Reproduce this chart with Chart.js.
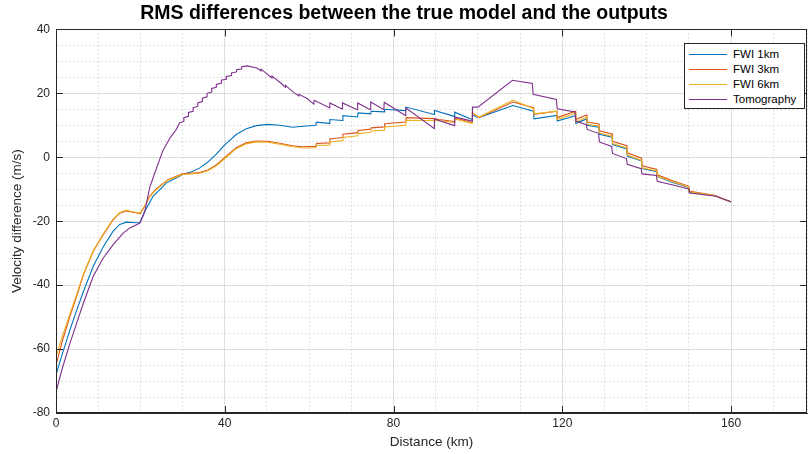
<!DOCTYPE html>
<html>
<head>
<meta charset="utf-8">
<title>RMS differences</title>
<script src="https://cdn.jsdelivr.net/npm/chart.js@4.4.0/dist/chart.umd.min.js"></script>
<style>
  body { margin: 0; background: #fff; }
  #wrap { position: relative; width: 810px; height: 454px; }
  #legend {
    position: absolute; left: 684px; top: 43px; width: 119px; height: 64px;
    border: 1px solid #262626; background: #fff;
    font: 11.5px "Liberation Sans", Arial, sans-serif; color: #000;
  }
  #legend .row { position: absolute; left: 0; width: 100%; height: 15px; }
  #legend .row i { position: absolute; left: 4px; top: 7px; width: 38px; height: 0; }
  #legend .row span { position: absolute; left: 48px; top: 0; line-height: 15px; white-space: nowrap; }
</style>
</head>
<body>
<div id="wrap">
  <canvas id="chart" width="810" height="454"></canvas>
  <div id="legend"></div>
</div>
<script>
"use strict";
var FONT = '"Liberation Sans", Arial, Helvetica, sans-serif';

// axis ticks
var xTicks = [0, 40, 80, 120, 160];
var yTicks = [-80, -60, -40, -20, 0, 20, 40];

var seriesNames = ['FWI 1km', 'FWI 3km', 'FWI 6km', 'Tomography'];
var seriesColors = ['#0072BD', '#D95319', '#EDB120', '#7E2F8E'];

// FWI 1km
var fwi1X = [0, 1.5, 3.3, 5, 6.5, 8.8, 11.2, 13.5, 15.1, 16.7, 18.7, 19.9, 21, 23, 26.2, 28.5, 30.1, 32, 34, 36, 38, 40,
    42.7, 45.1, 47.5, 50.2, 53, 56.1, 58.5, 61.6, 61.7, 64.8, 64.9, 67.9, 68, 71.5, 71.6, 74.6, 74.7, 77.8, 77.9,
    82.9, 83, 89.6, 89.7, 94.4, 94.5, 98.6, 98.7, 100.2, 108.3, 113.2, 113.3, 118.7, 118.8, 123.1, 123.2, 125.8, 125.9,
    128.7, 128.8, 131.8, 131.9, 135.3, 135.4, 138.8, 138.9, 142.4, 142.5, 146, 149.9, 150, 156, 160];
var fwi1Y = [-68.1, -61.5, -54.0, -47.5, -42.0, -34.2, -28.0, -23.2, -21.0, -20.3, -20.5, -20.4, -17.0, -12.2, -8.0, -6.5, -5.3, -4.6, -3.4, -1.5, 1.0, 3.9,
    7.1, 8.9, 9.9, 10.3, 10.0, 9.4, 9.7, 10.0, 11.0, 10.6, 11.8, 11.5, 13.0, 12.6, 13.9, 13.6, 14.4, 14.2, 15.0,
    14.6, 15.7, 13.4, 14.6, 12.8, 14.1, 11.8, 13.2, 12.4, 16.2, 14.4, 12.0, 13.1, 11.3, 13.0, 10.6, 12.0, 10.0,
    9.4, 7.2, 6.3, 4.0, 2.6, 0.4, -1.2, -3.5, -4.5, -6.0, -7.8, -9.4, -10.9, -12.0, -14.0];

// FWI 3km
var fwi3X = [0, 1.5, 3.3, 5, 6.5, 8.8, 11.2, 13.5, 15.1, 16.6, 18.6, 20, 21.4, 22.2, 23.7, 26.5, 30, 32, 34, 36, 38, 40.1,
    42.7, 45.1, 47.5, 50.2, 53, 56.1, 58.5, 61.6, 61.7, 64.8, 64.9, 67.9, 68, 71.5, 71.6, 74.6, 74.7, 77.8, 77.9,
    82.9, 83, 89.6, 90.8, 94.4, 94.5, 98.6, 98.7, 100.2, 108.3, 113.2, 113.3, 118.7, 118.8, 123.1, 123.2, 125.8, 125.9,
    128.7, 128.8, 131.8, 131.9, 135.3, 135.4, 138.8, 138.9, 142.4, 142.5, 146, 149.9, 150, 156, 160];
var fwi3Y = [-65.0, -57.5, -49.8, -43.0, -36.8, -29.5, -24.2, -19.6, -17.5, -16.8, -17.3, -17.6, -14.5, -12.2, -10.0, -7.0, -5.2, -5.0, -4.8, -4.0, -2.4, 0.0,
    3.0, 4.5, 5.1, 5.0, 4.4, 3.6, 3.3, 3.4, 4.3, 4.5, 5.7, 6.2, 7.2, 7.7, 8.4, 8.8, 9.2, 9.5, 10.5,
    11.0, 12.4, 12.1, 11.8, 11.2, 12.4, 10.8, 13.9, 12.4, 17.3, 15.5, 13.4, 14.4, 12.4, 14.4, 11.8, 13.3, 11.0,
    10.4, 8.3, 7.3, 5.0, 3.6, 1.4, -0.3, -2.7, -3.8, -5.5, -7.3, -9.0, -10.6, -11.9, -14.0];

// FWI 6km
var fwi6X = fwi3X;
var fwi6Y = [-62.5, -56.0, -49.0, -42.5, -36.5, -29.3, -24.0, -19.4, -17.3, -16.6, -17.1, -17.4, -14.4, -12.4, -10.2, -7.2, -5.4, -5.2, -5.0, -4.2, -2.7, -0.3,
    2.7, 4.2, 4.8, 4.7, 4.1, 3.3, 2.9, 3.0, 3.7, 3.8, 4.8, 5.2, 6.2, 6.7, 7.4, 7.8, 8.2, 8.5, 9.5,
    10.0, 11.6, 11.5, 11.4, 10.9, 12.0, 10.6, 14.0, 12.5, 17.9, 15.2, 13.6, 14.4, 11.8, 13.8, 11.0, 12.6, 10.3,
    9.8, 7.6, 6.6, 4.3, 2.9, 0.7, -1.0, -3.3, -4.3, -5.9, -7.6, -9.3, -10.8, -12.0, -14.0];

// Tomography
var tomoX = [0, 1.5, 3.3, 5, 6.5, 8.8, 11.2, 13.5, 15.9, 17.5, 19.9, 21, 22.2, 23.8, 25.3, 27, 28.5,
    29.3, 30.3, 30.3, 31.4, 31.4, 32.5, 32.5, 33.6, 33.6, 34.7, 34.7, 35.8, 35.8, 36.9, 36.9, 38.0, 38.0, 39.2, 39.2,
    40.4, 40.4, 41.6, 41.6, 42.8, 42.8, 44.0, 44.0, 45.3, 47.6, 48.6, 48.6, 50, 51.2, 51.2, 53.2, 54.4, 54.4,
    56.3, 57.6, 57.6, 59.5, 61.1, 61.2, 64.8, 64.9, 67.8, 67.9, 71.4, 71.5, 74.5, 74.6, 77.7, 77.8,
    82.8, 82.9, 89.6, 89.7, 94.4, 94.5, 98.6, 98.7, 100, 108.2, 112.9, 113.1, 118.6, 118.8, 123, 123.2, 125.7, 125.9,
    128.6, 128.8, 131.7, 131.9, 135.2, 135.4, 138.7, 138.9, 142.3, 142.5, 146, 150, 150.2, 156.5, 160];
var tomoY = [-73.4, -66.0, -58.2, -51.5, -45.6, -37.3, -31.5, -27.4, -23.7, -22.1, -20.6, -17.2, -9.5, -3.5, 2.0, 6.0, 8.7,
    10.8, 11.2, 12.4, 12.8, 14.0, 14.4, 15.5, 15.9, 17.0, 17.4, 18.5, 18.9, 20.0, 20.4, 21.5, 21.9, 22.8, 23.2, 24.1,
    24.5, 25.3, 25.6, 26.4, 26.7, 27.4, 27.6, 28.3, 28.6, 27.9, 27.0, 27.6, 26.1, 24.8, 25.4, 23.3, 21.9, 22.5,
    20.3, 19.2, 19.7, 18.4, 16.6, 17.8, 15.5, 17.0, 15.1, 17.0, 14.9, 17.0, 14.9, 17.3, 14.9, 17.2,
    13.1, 15.5, 9.0, 12.0, 9.9, 12.6, 11.3, 15.7, 15.7, 24.1, 23.1, 19.7, 18.1, 15.2, 14.2, 11.3, 10.2, 8.7,
    7.5, 4.8, 3.4, 1.2, -0.4, -2.2, -3.6, -5.2, -5.7, -7.5, -8.6, -9.9, -11.2, -12.2, -13.9];

var seriesX = [fwi1X, fwi3X, fwi6X, tomoX];
var seriesY = [fwi1Y, fwi3Y, fwi6Y, tomoY];

function toPoints(xs, ys) {
    return xs.map(function (x, i) { return { x: x, y: ys[i] }; });
}

var AXIS = '#262626';
var MAJOR_GRID = '#dedede';
var MINOR_GRID = '#c4c4c4';
var TICK_LEN = 7;

function isMajor(list, ctx) {
    return ctx.tick && list.indexOf(ctx.tick.value) !== -1;
}

// box around the axes with inward tick marks, drawn over the lines
var axesFrame = {
    id: 'axesFrame',
    afterDraw: function (chart) {
        var c = chart.ctx, a = chart.chartArea, sx = chart.scales.x, sy = chart.scales.y;
        c.save();
        c.strokeStyle = AXIS;
        c.lineWidth = 1;
        c.strokeRect(Math.round(a.left) + 0.5, Math.round(a.top) + 0.5,
            Math.round(a.right - a.left) - 1, Math.round(a.bottom - a.top) - 1);
        c.beginPath();
        xTicks.forEach(function (v) {
            var px = Math.round(sx.getPixelForValue(v)) + 0.5;
            c.moveTo(px, a.bottom); c.lineTo(px, a.bottom - TICK_LEN);
            c.moveTo(px, a.top); c.lineTo(px, a.top + TICK_LEN);
        });
        yTicks.forEach(function (v) {
            var py = Math.round(sy.getPixelForValue(v)) + 0.5;
            c.moveTo(a.left, py); c.lineTo(a.left + TICK_LEN, py);
            c.moveTo(a.right, py); c.lineTo(a.right - TICK_LEN, py);
        });
        c.stroke();
        c.restore();
    }
};

var datasets = seriesNames.map(function (name, i) {
    return {
        label: name,
        data: toPoints(seriesX[i], seriesY[i]),
        borderColor: seriesColors[i],
        backgroundColor: seriesColors[i],
        borderWidth: 1.1,
        pointRadius: 0,
        tension: 0,
        fill: false,
        order: seriesNames.length - i
    };
});

new Chart(document.getElementById('chart'), {
    type: 'line',
    data: { datasets: datasets },
    plugins: [axesFrame],
    options: {
        responsive: false,
        animation: false,
        layout: { padding: { left: 0, right: 2, top: 0, bottom: 0 } },
        plugins: {
            legend: { display: false },
            tooltip: { enabled: false },
            title: {
                display: true,
                text: 'RMS differences between the true model and the outputs',
                color: '#000',
                font: { family: FONT, size: 19.5, weight: 'bold' },
                padding: { top: 2, bottom: 4 }
            }
        },
        scales: {
            x: {
                type: 'linear',
                min: 0,
                max: 178,
                ticks: {
                    stepSize: 10,
                    autoSkip: false,
                    maxRotation: 0,
                    padding: 3,
                    color: AXIS,
                    font: { family: FONT, size: 12 },
                    callback: function (v) { return xTicks.indexOf(v) !== -1 ? v : ''; }
                },
                grid: {
                    drawTicks: false,
                    color: function (ctx) { return isMajor(xTicks, ctx) ? MAJOR_GRID : MINOR_GRID; }
                },
                border: {
                    color: AXIS,
                    dash: function (ctx) { return ctx.tick && !isMajor(xTicks, ctx) ? [1, 3] : []; }
                },
                title: {
                    display: true,
                    text: 'Distance (km)',
                    color: AXIS,
                    font: { family: FONT, size: 13.5 },
                    padding: { top: 0, bottom: 4 }
                },
                afterFit: function (scale) { scale.height = 41; }
            },
            y: {
                type: 'linear',
                min: -80,
                max: 40,
                ticks: {
                    stepSize: 5,
                    autoSkip: false,
                    padding: 6,
                    color: AXIS,
                    font: { family: FONT, size: 12 },
                    callback: function (v) { return yTicks.indexOf(v) !== -1 ? v : ''; }
                },
                grid: {
                    drawTicks: false,
                    color: function (ctx) { return isMajor(yTicks, ctx) ? MAJOR_GRID : MINOR_GRID; }
                },
                border: {
                    color: AXIS,
                    dash: function (ctx) { return ctx.tick && !isMajor(yTicks, ctx) ? [1, 3] : []; }
                },
                title: {
                    display: true,
                    text: 'Velocity difference (m/s)',
                    color: AXIS,
                    font: { family: FONT, size: 13.5 },
                    padding: { top: 9, bottom: 0 }
                },
                afterFit: function (scale) { scale.width = 56; }
            }
        }
    }
});

// legend box in the upper right corner
var legend = document.getElementById('legend');
seriesNames.forEach(function (name, i) {
    var row = document.createElement('div');
    row.className = 'row';
    row.style.top = (3 + i * 15) + 'px';
    var line = document.createElement('i');
    line.style.borderTop = '1px solid ' + seriesColors[i];
    var label = document.createElement('span');
    label.textContent = name;
    row.appendChild(line);
    row.appendChild(label);
    legend.appendChild(row);
});
</script>
</body>
</html>
